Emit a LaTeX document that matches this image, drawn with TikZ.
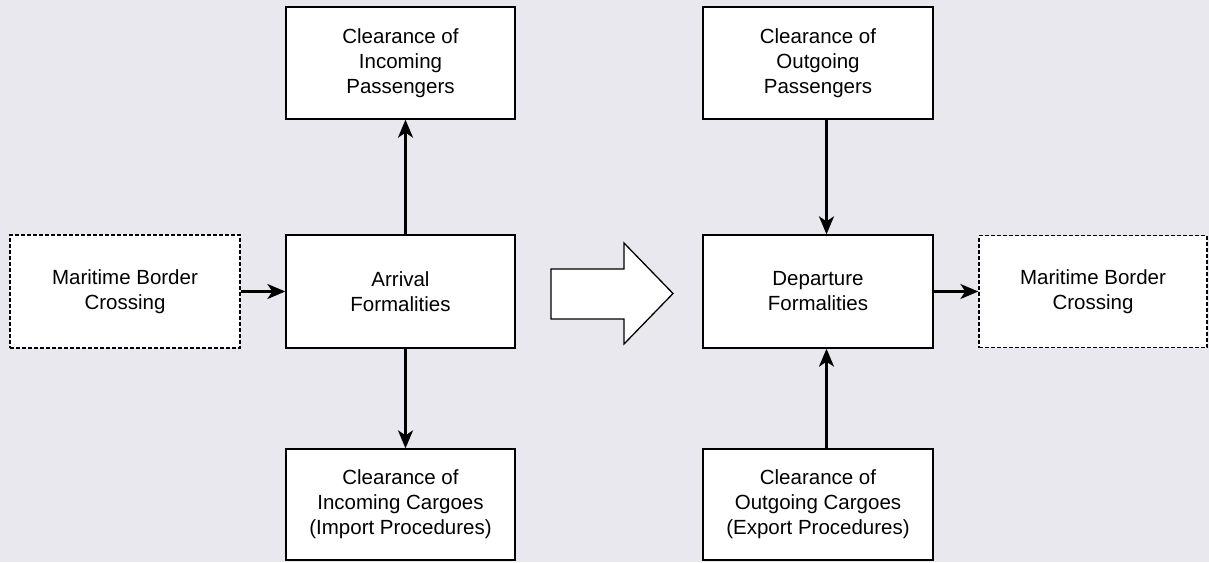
\documentclass[tikz,border=0pt]{standalone}
\usepackage{fontspec}
\setmainfont{Liberation Sans}
\usetikzlibrary{arrows.meta}
\definecolor{bgc}{HTML}{E9E8EF}
\tikzset{
  box/.style={draw=black, line width=1.3pt, fill=white, align=center, inner sep=0pt,
    font=\fontsize{20.5}{25}\selectfont},
  dbox/.style={box, dash pattern=on 4pt off 2pt},
  conn/.style={line width=2.5pt, -{Stealth[length=18pt,width=15pt,inset=5pt]}},
  bigarrow/.style={draw=black, line width=1.3pt, fill=white, line join=miter}
}
\begin{document}
\begin{tikzpicture}[x=1pt,y=-1pt]
\fill[bgc] (0,0) rectangle (1209,562);
\useasboundingbox (0,0) rectangle (1209,562);

\node[dbox, minimum width=230pt, minimum height=113pt] (mbl) at (125,291.5) {Maritime Border\\Crossing};
\node[box, minimum width=229pt, minimum height=113pt] (arr) at (400.5,291.5) {Arrival\\Formalities};
\node[box, minimum width=229pt, minimum height=112pt] (pin) at (400.5,63) {Clearance of\\Incoming\\Passengers};
\node[box, minimum width=229pt, minimum height=111pt] (cin) at (400.5,504.5) {Clearance of\\Incoming Cargoes\\(Import Procedures)};

\node[box, minimum width=230pt, minimum height=113pt] (dep) at (818,291.5) {Departure\\Formalities};
\node[box, minimum width=230pt, minimum height=112pt] (pout) at (818,63) {Clearance of\\Outgoing\\Passengers};
\node[box, minimum width=230pt, minimum height=111pt] (cout) at (818,504.5) {Clearance of\\Outgoing Cargoes\\(Export Procedures)};
\node[dbox, minimum width=228pt, minimum height=112pt] (mbr) at (1093,291.5) {Maritime Border\\Crossing};

% big arrow
\draw[bigarrow] (551,269) -- (624,269) -- (624,243) -- (673,293.5) -- (624,344) -- (624,319) -- (551,319) -- cycle;

% connectors
\draw[conn] (mbl.east) -- (arr.west);
\draw[conn] ([xshift=5pt]arr.north) -- ([xshift=5pt]pin.south);
\draw[conn] ([xshift=5pt]arr.south) -- ([xshift=5pt]cin.north);
\draw[conn] ([xshift=8.5pt]pout.south) -- ([xshift=8.5pt]dep.north);
\draw[conn] ([xshift=8.5pt]cout.north) -- ([xshift=8.5pt]dep.south);
\draw[conn] (dep.east) -- (mbr.west);
\end{tikzpicture}
\end{document}
